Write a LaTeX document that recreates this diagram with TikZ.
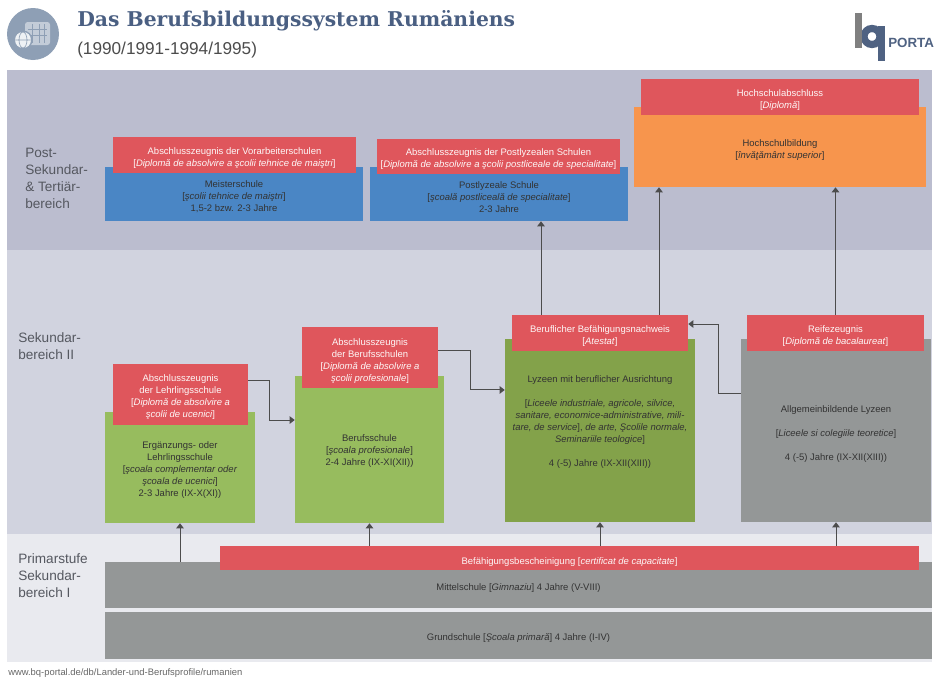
\documentclass[tikz,border=0pt]{standalone}
\usepackage{fontspec}
\setmainfont{Liberation Sans}
\newfontfamily\titlefont{DejaVu Serif}
\usetikzlibrary{arrows.meta}
\definecolor{bandA}{HTML}{BBBDCF}
\definecolor{bandB}{HTML}{D1D3DF}
\definecolor{bandC}{HTML}{E9EAEF}
\definecolor{rd}{HTML}{DF565C}
\definecolor{bl}{HTML}{4A86C5}
\definecolor{org}{HTML}{F7954D}
\definecolor{grA}{HTML}{97BC5E}
\definecolor{grB}{HTML}{83A24A}
\definecolor{gy}{HTML}{949797}
\definecolor{ttl}{HTML}{4A5F82}
\definecolor{sidec}{HTML}{555860}
\definecolor{iconbg}{HTML}{8E9FB5}
\definecolor{iconfg}{HTML}{C3CCD8}
\tikzset{
  x=0.75pt,y=-0.75pt,
  bodytext/.style={align=center,font=\fontsize{7.1}{9}\selectfont,text=black!80,inner sep=0pt},
  redbox/.style={bodytext,fill=rd,text=white!95!rd},
  bluebox/.style={bodytext,fill=bl},
  orgbox/.style={bodytext,fill=org},
  lgreen/.style={bodytext,fill=grA},
  dgreen/.style={bodytext,fill=grB},
  greybox/.style={bodytext,fill=gy},
  sidelabel/.style={align=left,anchor=north west,inner sep=0pt,text=sidec,font=\fontsize{10.2}{12.75}\selectfont},
  conn/.style={draw=black!70,line width=0.75pt,-{Triangle[length=3.8pt,width=5.6pt]}},
}
\newcommand{\bx}[7]{\node[#2,minimum width={(#5-#3)*0.75pt},minimum height={(#6-#4)*0.75pt}] (#1) at ({(#3+#5)/2},{(#4+#6)/2}) {#7};}
\newcommand{\pad}[1]{\rule{0pt}{#1pt}}
\begin{document}
\begin{tikzpicture}
\useasboundingbox (0,0) rectangle (936,678);
% bands
\fill[bandA] (7,70) rectangle (932,250);
\fill[bandB] (7,250) rectangle (932,534);
\fill[bandC] (7,534) rectangle (932,662);
% header
\fill[iconbg] (33,34) circle (26);
\fill[iconfg,rounded corners=2pt] (25,22) rectangle (50,45);
\draw[iconbg,line width=0.5pt] (32,24) -- (32,43) (39,24) -- (39,43) (44,24) -- (44,43) (28,29) -- (47,29) (28,35) -- (47,35);
\fill[iconbg] (23,40) circle (9.5);
\fill[white!85!iconbg] (23,40) circle (8);
\draw[iconbg,line width=0.5pt] (15,40) -- (31,40) (23,40) ellipse (4 and 8);
\node[anchor=west,inner sep=0pt,text=ttl,font=\titlefont\bfseries\fontsize{15.25}{18}\selectfont] (title) at (77,21) {Das Berufsbildungssystem Rumäniens};
\node[anchor=west,inner sep=0pt,text=black!70,font=\fontsize{12.9}{15}\selectfont] (subtitle) at (77,50) {(1990/1991-1994/1995)};
% logo
\draw[line width=5.4pt,color=ttl!90!gray] (872,36.5) circle (8);
\fill[black!50] (855,13) rectangle (862,48);
\fill[ttl!90!gray] (878,26) rectangle (884.5,61);
\node[anchor=west,inner sep=0pt,text=ttl!90!gray,font=\bfseries\fontsize{10}{12}\selectfont] (logotext) at (888,42.5) {PORTA};
% side labels
\node[sidelabel] (s1) at (25,148) {Post-\\Sekundar-\\\& Tertiär-\\bereich};
\node[sidelabel] (s2) at (18,332) {Sekundar-\\bereich II};
\node[sidelabel] (s3) at (18,553) {Primarstufe\\Sekundar-\\bereich I};
% school boxes
\bx{b1}{bluebox}{105}{167}{363}{221}{\\[0.5pt]Meisterschule\\{}[\textit{şcolii tehnice de maiştri}]\\1,5-2 bzw. 2-3 Jahre}
\bx{b2}{bluebox}{370}{167}{628}{221}{\\[0.5pt]Postlyzeale Schule\\{}[\textit{şcoală postliceală de specialitate}]\\2-3 Jahre}
\bx{o1}{orgbox}{634}{107}{926}{187}{\pad{9.5}Hochschulbildung\\{}[\textit{învăţământ superior}]}
\bx{g1}{lgreen}{105}{412}{255}{523}{\\Ergänzungs- oder\\Lehrlingsschule\\{}[\textit{şcoala complementar oder}\\\textit{şcoala de ucenici}]\\2-3 Jahre (IX-X(XI))}
\bx{g2}{lgreen}{295}{376}{444}{523}{\pad{8}Berufsschule\\{}[\textit{şcoala profesionale}]\\2-4 Jahre (IX-XI(XII))}
\bx{g3}{dgreen}{505}{339}{695}{522}{Lyzeen mit beruflicher Ausrichtung\\[9pt]{}[\textit{Liceele industriale, agricole, silvice,}\\\textit{sanitare, economice-administrative, mili-}\\\textit{tare, de service}], \textit{de arte, Şcolile normale,}\\\textit{Seminariile teologice}]\\[9pt]4 (-5) Jahre (IX-XII(XIII))\\[5.5pt]~}
\bx{g4}{greybox}{741}{339}{931}{522}{\\[2pt]Allgemeinbildende Lyzeen\\[9pt]{}[\textit{Liceele si colegiile teoretice}]\\[9pt]4 (-5) Jahre (IX-XII(XIII))}
\bx{m1}{greybox}{105}{562}{932}{608}{\pad{9}Mittelschule [\textit{Gimnaziu}] 4 Jahre (V-VIII)}
\bx{m2}{greybox}{105}{612}{932}{659}{\pad{9.5}Grundschule [\textit{Şcoala primară}] 4 Jahre (I-IV)}
% certificates
\bx{r1}{redbox}{113}{137}{356}{173}{\pad{9.5}Abschlusszeugnis der Vorarbeiterschulen\\{}[\textit{Diplomă de absolvire a şcolii tehnice de maiştri}]}
\bx{r2}{redbox}{377}{139}{620}{174}{\pad{9.5}Abschlusszeugnis der Postlyzealen Schulen\\{}[\textit{Diplomă de absolvire a şcolii postliceale de specialitate}]}
\bx{r3}{redbox}{641}{79}{919}{115}{\pad{9.5}Hochschulabschluss\\{}[\textit{Diplomă}]}
\bx{r4}{redbox}{113}{364}{248}{425}{\pad{9.5}Abschlusszeugnis\\der Lehrlingsschule\\{}[\textit{Diplomă de absolvire a}\\\textit{şcolii de ucenici}]}
\bx{r5}{redbox}{302}{327}{438}{388}{\pad{11}Abschlusszeugnis\\der Berufsschulen\\{}[\textit{Diplomă de absolvire a}\\\textit{şcolii profesionale}]}
\bx{r6}{redbox}{512}{315}{688}{351}{\pad{10}Beruflicher Befähigungsnachweis\\{}[\textit{Atestat}]}
\bx{r7}{redbox}{747}{315}{924}{351}{\pad{10}Reifezeugnis\\{}[\textit{Diplomă de bacalaureat}]}
\bx{r8}{redbox}{220}{546}{919}{570}{\pad{11}Befähigungsbescheinigung [\textit{certificat de capacitate}]}
% connectors
\draw[conn] ([yshift=10.5pt]r4.east) -- ++(21,0) |- ([yshift=22.1pt]g2.west);
\draw[conn] ([yshift=5.6pt]r5.east) -- ++(32,0) |- ([yshift=30.4pt]g3.west);
\draw[conn] ([yshift=27.4pt]g4.west) -- ++(-22,0) |- ([yshift=6.75pt]r6.east);
\draw[conn] ([xshift=-44.25pt]r6.north) -- ([xshift=-44.25pt]r6.north |- b2.south);
\draw[conn] ([xshift=44.25pt]r6.north) -- ([xshift=44.25pt]r6.north |- o1.south);
\draw[conn] (r7.north) -- (r7.north |- o1.south);
\draw[conn] (g1.south |- m1.north) -- (g1.south);
\draw[conn] (g2.south |- r8.north) -- (g2.south);
\draw[conn] (g3.south |- r8.north) -- (g3.south);
\draw[conn] (g4.south |- r8.north) -- (g4.south);
% footer
\node[anchor=west,inner sep=0pt,text=black!60,font=\fontsize{7.05}{8}\selectfont] (footer) at (8,673) {www.bq-portal.de/db/Lander-und-Berufsprofile/rumanien};
\end{tikzpicture}
\end{document}
